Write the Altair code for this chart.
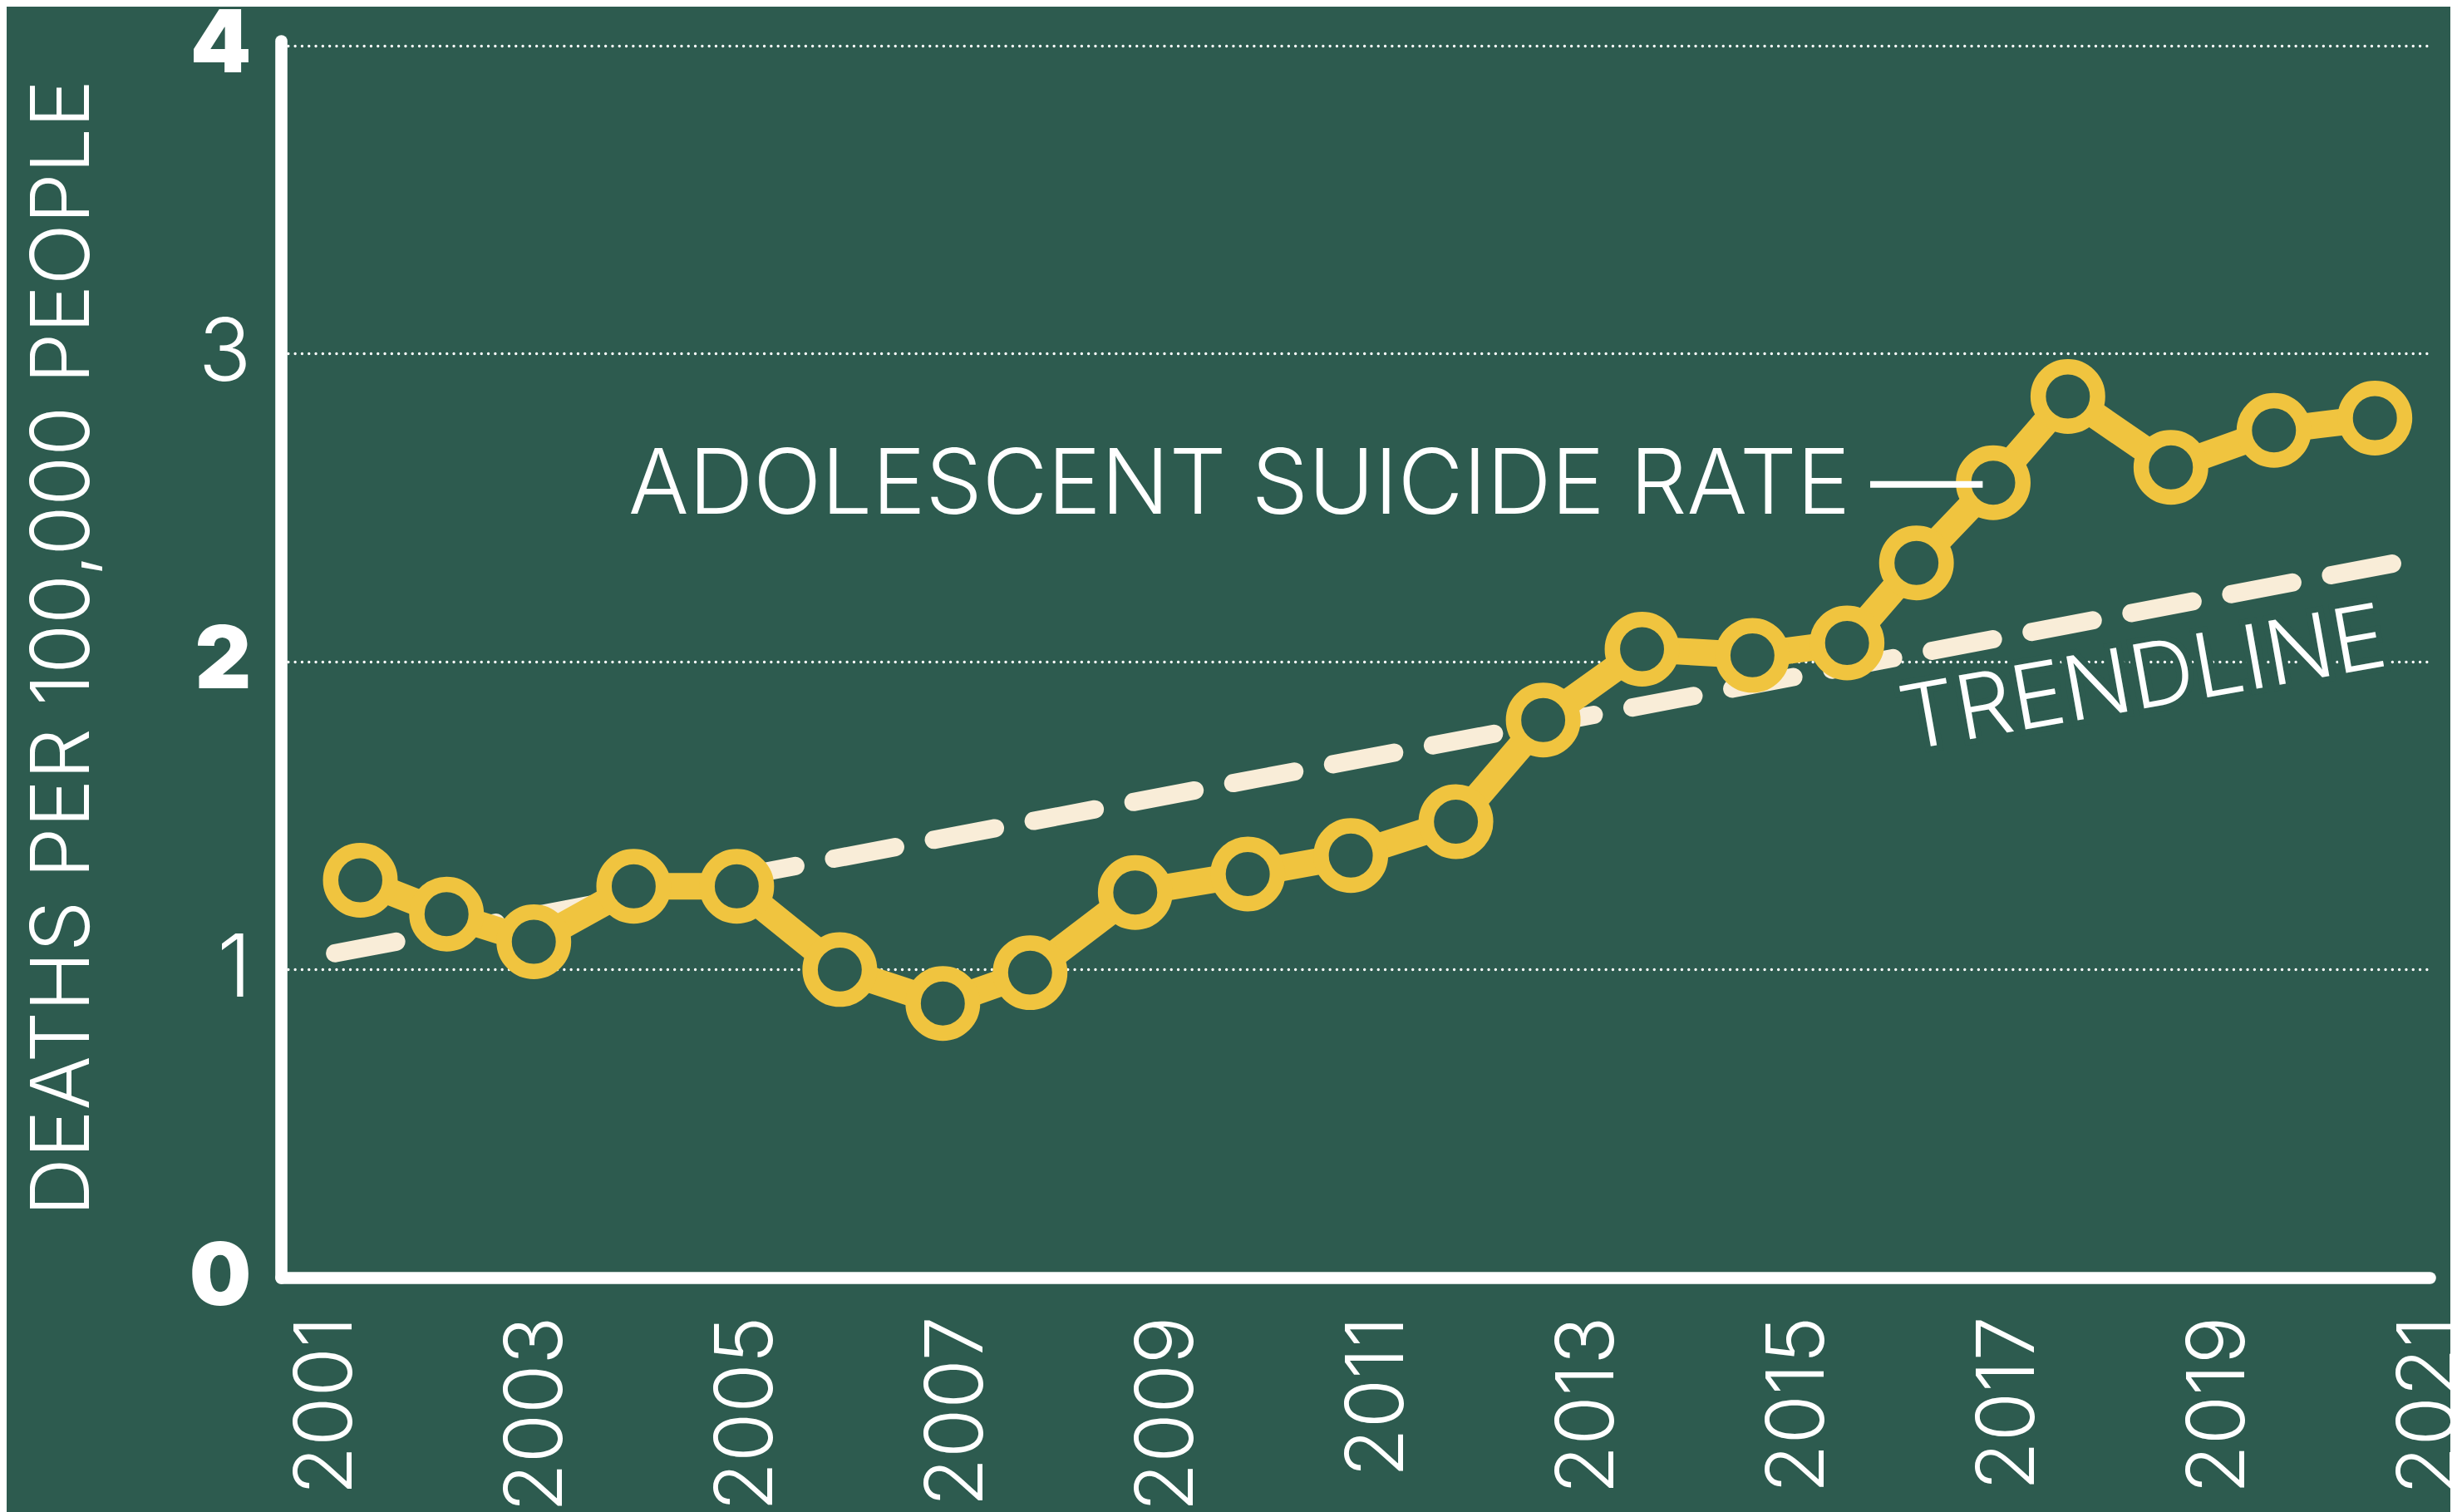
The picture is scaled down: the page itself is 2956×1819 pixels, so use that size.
import altair as alt
import pandas as pd

BG = "#2D5B4F"
YELLOW = "#F0C43F"
CREAM = "#F9EDD8"
WHITE = "#FFFFFF"
FONT = "Inter"

# data
point_years = [2001.32, 2002.14, 2002.97, 2003.92, 2004.90, 2005.88, 2006.86, 2007.69,
               2008.69, 2009.76, 2010.74, 2011.74, 2012.57, 2013.51, 2014.56, 2015.46,
               2016.12, 2016.85, 2017.56, 2018.54, 2019.52, 2020.48]
rates = [1.29, 1.18, 1.09, 1.27, 1.27, 1.00, 0.89, 0.99,
         1.25, 1.31, 1.37, 1.48, 1.81, 2.04, 2.02, 2.06,
         2.32, 2.58, 2.86, 2.63, 2.75, 2.79]

trend_years = [2001.08, 2020.65]
trend_rates = [1.053, 2.318]

x_ticks = [2001, 2003, 2005, 2007, 2009, 2011, 2013, 2015, 2017, 2019, 2021]
y_ticks = [0, 1, 2, 3, 4]

series_label = ["ADOLESCENT SUICIDE RATE"]
series_label_year = [2015.49]
series_label_rate = [2.48]

leader_year = [2015.68]
leader_year2 = [2016.75]
leader_rate = [2.575]

trend_label = ["TRENDLINE"]
trend_label_year = [2016.02]
trend_label_rate = [1.711]

y_title = "DEATHS PER 100,000 PEOPLE"

X_DOMAIN = [2000.565, 2021.0]
Y_DOMAIN = [0, 4.015]

series_df = pd.DataFrame({"year": point_years, "rate": rates})
trend_df = pd.DataFrame({"year": trend_years, "rate": trend_rates})
slabel_df = pd.DataFrame({"year": series_label_year, "rate": series_label_rate, "label": series_label})
leader_df = pd.DataFrame({"year": leader_year, "year2": leader_year2, "rate": leader_rate})
tlabel_df = pd.DataFrame({"year": trend_label_year, "rate": trend_label_rate, "label": trend_label})

x_enc = alt.X(
    "year:Q",
    scale=alt.Scale(domain=X_DOMAIN, nice=False, zero=False),
    axis=alt.Axis(
        values=x_ticks, format="d", title=None, labelAngle=270,
        labelFontSize=96, labelFontWeight=300, labelColor=WHITE, labelFont=FONT,
        labelPadding=46, labelLimit=1000, ticks=False, tickSize=0, grid=False,
        domainColor=WHITE, domainWidth=14.6, domainCap="round",
        labelOverlap=False,
    ),
)
y_enc = alt.Y(
    "rate:Q",
    scale=alt.Scale(domain=Y_DOMAIN, nice=False, zero=True),
    axis=alt.Axis(
        values=y_ticks, format="d", title=y_title,
        titleFontSize=97, titleFontWeight=300, titleColor=WHITE, titleFont=FONT,
        titleAngle=270, titleX=-232, titleY=730, titleAlign="center",
        titleBaseline="alphabetic", titleLimit=2000,
        labelFontSize=105, labelColor=WHITE, labelFont=FONT,
        labelFontWeight={"condition": {"test": "datum.value % 2 === 0", "value": 900}, "value": 300},
        labelPadding=36, ticks=False, tickSize=0,
        grid=True, gridColor=WHITE, gridWidth=3.3, gridDash=[0.1, 8.2], gridCap="round",
        domainColor=WHITE, domainWidth=14.6, domainCap="round",
        labelOverlap=False,
    ),
)

trend = alt.Chart(trend_df).mark_line(
    color=CREAM, strokeWidth=22, strokeDash=[74.8, 47.4], strokeCap="round"
).encode(x=x_enc, y=y_enc)

line = alt.Chart(series_df).mark_line(
    color=YELLOW, strokeWidth=32
).encode(x="year:Q", y="rate:Q")

points = alt.Chart(series_df).mark_point(
    shape="circle", filled=True, fill=BG, stroke=YELLOW, strokeWidth=18.5,
    size=5100, opacity=1, fillOpacity=1, strokeOpacity=1
).encode(x="year:Q", y="rate:Q")

slabel = alt.Chart(slabel_df).mark_text(
    align="right", baseline="alphabetic", font=FONT, fontSize=108, fontWeight=300,
    color=WHITE
).encode(x="year:Q", y="rate:Q", text="label:N")

leader = alt.Chart(leader_df).mark_rule(color=WHITE, strokeWidth=8).encode(
    x="year:Q", x2="year2:Q", y="rate:Q"
)

tlabel_halo = alt.Chart(tlabel_df).mark_text(
    align="left", baseline="alphabetic", font=FONT, fontSize=107, fontWeight=300,
    angle=350, fill=BG, stroke=BG, strokeWidth=14
).encode(x="year:Q", y="rate:Q", text="label:N")

tlabel = alt.Chart(tlabel_df).mark_text(
    align="left", baseline="alphabetic", font=FONT, fontSize=107, fontWeight=300,
    angle=350, color=WHITE
).encode(x="year:Q", y="rate:Q", text="label:N")

chart = alt.layer(
    trend, line, points, slabel, leader, tlabel_halo, tlabel
).properties(
    width=2585, height=1488,
    padding={"left": 330, "top": 41, "right": 25, "bottom": 282},
    autosize=alt.AutoSizeParams(type="none"),
    background=BG,
).configure_view(strokeWidth=0)

chart.save("out.html", embed_options={"renderer": "svg", "actions": False})
